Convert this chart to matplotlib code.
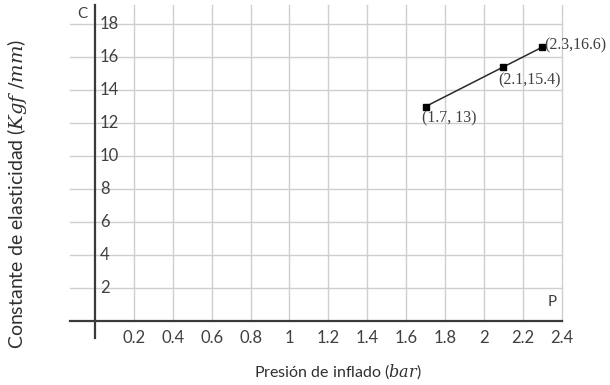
import matplotlib.pyplot as plt

# datos del grafico
presion = [1.7, 2.1, 2.3]
constante = [13, 15.4, 16.6]
etiquetas = ["(1.7, 13)", "(2.1,15.4)", "(2.3,16.6)"]
xticks = [0.2, 0.4, 0.6, 0.8, 1, 1.2, 1.4, 1.6, 1.8, 2, 2.2, 2.4]
xtick_labels = ["0.2", "0.4", "0.6", "0.8", "1", "1.2", "1.4", "1.6", "1.8", "2", "2.2", "2.4"]
yticks = [2, 4, 6, 8, 10, 12, 14, 16, 18]

plt.rcParams["font.family"] = ["Lato", "DejaVu Sans"]
plt.rcParams["mathtext.fontset"] = "dejavuserif"

fig = plt.figure(figsize=(6.1, 3.85), dpi=100)
ax = fig.add_axes([0, 0, 1, 1])
ax.set_xlim(-95 / 194.5, 515 / 194.5)
ax.set_ylim(-64 / 16.5, 321 / 16.5)
ax.axis("off")

gris = "#cfcfcf"
# cuadricula
for y in yticks:
    ax.plot([-0.13, 2.4], [y, y], color=gris, lw=1, zorder=1)
for x in xticks:
    ax.plot([x, x], [0, 19.15], color=gris, lw=1, zorder=1)

# ejes
ax.plot([-0.13, 2.4], [0, 0], color="#3a3a3a", lw=1.6, zorder=2)
ax.plot([0, 0], [-1.05, 19.15], color="#3a3a3a", lw=1.6, zorder=2)

for x, lab in zip(xticks, xtick_labels):
    ax.text(x, -1.05, lab, ha="center", va="center", fontsize=12, color="#404040")
for y in yticks:
    ax.text(0.025, y, str(y), ha="left", va="center", fontsize=12, color="#404040")

ax.text(-0.04, 18.6, "C", ha="right", va="center", fontsize=11, color="#404040")
ax.text(2.375, 1.15, "P", ha="right", va="center", fontsize=11, color="#404040")

# serie
ax.plot(presion, constante, color="#2a2a2a", lw=1.1, marker="s", markersize=4,
        markerfacecolor="black", markeredgecolor="black", zorder=3)
offsets = [(-0.02, -0.75), (-0.025, -0.8), (0.008, 0.1)]
for x, y, lab, (dx, dy) in zip(presion, constante, etiquetas, offsets):
    ax.text(x + dx, y + dy, lab, ha="left", va="center", fontsize=11.5, color="#404040",
            family=["Liberation Serif"])

fig.text(338 / 610, 1 - 372 / 385, r"Presión de inflado ($bar$)", ha="center", va="center",
         fontsize=11.5, color="#303030")
fig.text(17 / 610, 1 - 194 / 385, r"Constante de elasticidad ($Kgf\ /mm$)", ha="center",
         va="center", rotation=90, fontsize=14, color="#303030")

fig.savefig("out.png", dpi=100)
